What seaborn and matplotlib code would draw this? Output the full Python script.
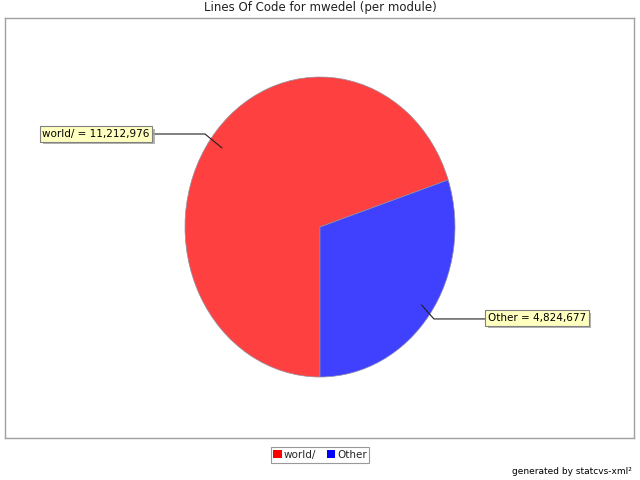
import matplotlib
matplotlib.use('Agg')
import matplotlib.pyplot as plt
import matplotlib.patheffects as pe
from matplotlib.patches import Patch
import seaborn as sns

# Data
modules = ['world/', 'Other']
lines_of_code = [11212976, 4824677]
slice_colors = ['#FF4040', '#4040FF']
legend_colors = ['#FF0000', '#0000FF']

sns.set_theme(style='white')
plt.rcParams['font.family'] = ['DejaVu Sans']

fig = plt.figure(figsize=(6.4, 4.8), dpi=100)
fig.patch.set_facecolor('white')

# plot area (pixel box 5..634 x 18..438)
ax = fig.add_axes([5/640, 1 - 438/480, 629/640, 420/480])
ax.set_facecolor('white')

wedges, _ = ax.pie(lines_of_code, colors=slice_colors, startangle=-90,
                   counterclock=False, radius=1, frame=True,
                   wedgeprops={'edgecolor': '#9090A0', 'linewidth': 0.5})
ax.set_aspect('auto')
ax.set_xlim(-315/135, 314/135)
ax.set_ylim(-211/150, 209/150)
ax.set_xticks([])
ax.set_yticks([])
ax.set_frame_on(True)
for s in ax.spines.values():
    s.set_visible(True)
    s.set_color('#A0A0A0')
    s.set_linewidth(1)

# labels with leader lines
label_pos = [(-1.659, 0.62), (1.607, -0.607)]
elbow_pos = [(-0.852, 0.62), (0.844, -0.613)]
anchor_pos = [(-0.726, 0.527), (0.752, -0.52)]
edge_x = [-1.27, 1.255]
for name, val, lp, ep, ap, ex in zip(modules, lines_of_code, label_pos,
                                     elbow_pos, anchor_pos, edge_x):
    ax.plot([ex, ep[0], ap[0]], [ep[1], ep[1], ap[1]], color='#202020', lw=0.8)
    t = ax.text(lp[0], lp[1], f'{name} = {val:,}', ha='center', va='center',
                fontsize=7.5, color='black',
                bbox=dict(boxstyle='square,pad=0.25', fc='#FFFFC0', ec='#808080', lw=0.8))
    t.get_bbox_patch().set_path_effects([
        pe.withSimplePatchShadow(offset=(2, -2), shadow_rgbFace='#A0A0A0', alpha=0.8)])

fig.text(0.5, 1 - 8/480, 'Lines Of Code for mwedel (per module)', ha='center',
         va='center', fontsize=8.5, color='#202020')

handles = [Patch(facecolor=c, edgecolor='none') for c in legend_colors]
leg = fig.legend(handles, modules, loc='center', bbox_to_anchor=(0.5, 1 - 455/480),
                 ncol=2, fontsize=7.5, frameon=True, fancybox=False,
                 handlelength=0.8, handleheight=0.8, handletextpad=0.2,
                 columnspacing=1.0, borderpad=0.25, borderaxespad=0)
leg.get_frame().set_edgecolor('#808080')
leg.get_frame().set_linewidth(0.8)

fig.text(632/640, 1 - 471/480, 'generated by statcvs-xml²', ha='right',
         va='center', fontsize=6.5, color='black')

fig.savefig('out.png', dpi=100)
